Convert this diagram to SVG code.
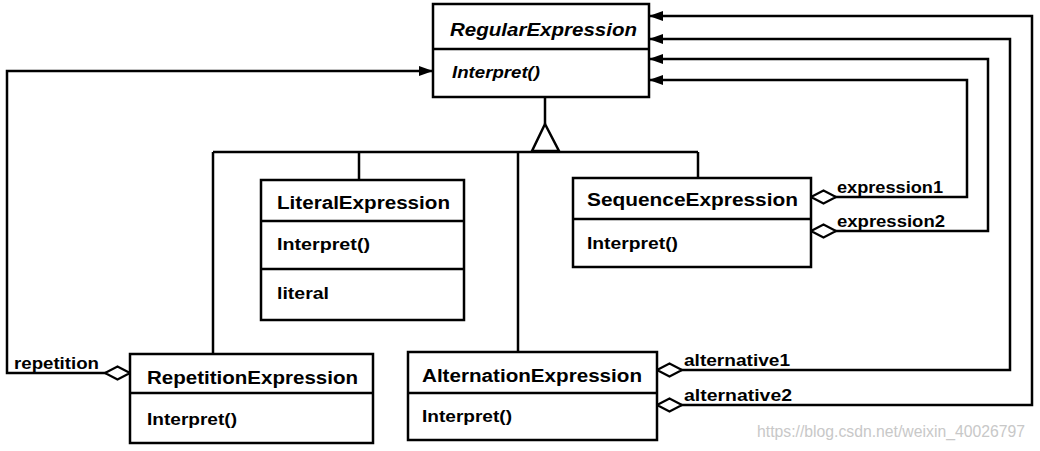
<svg xmlns="http://www.w3.org/2000/svg" width="1040" height="451" viewBox="0 0 1040 451">
<defs>
<style>
.box{fill:#fff;stroke:#000;stroke-width:2.5}
.div{stroke:#000;stroke-width:2.5}
.line{fill:none;stroke:#000;stroke-width:2.5}
.title{font-family:"Liberation Sans",Arial,sans-serif;font-weight:bold;font-size:18px;fill:#000}
.op{font-family:"Liberation Sans",Arial,sans-serif;font-size:17px;fill:#000;font-weight:bold}
.lbl{font-family:"Liberation Sans",Arial,sans-serif;font-size:17px;fill:#000;font-weight:bold}
.wm{font-family:"Liberation Sans",Arial,sans-serif;font-size:16px;fill:#c8c8c8}
</style>
<marker id="arrow" markerUnits="userSpaceOnUse" markerWidth="16" markerHeight="12" refX="14" refY="5" orient="auto">
<path d="M0,0 L14,5 L0,10 Z" fill="#000"/>
</marker>
<marker id="diamond" markerUnits="userSpaceOnUse" markerWidth="30" markerHeight="18" refX="1" refY="8" orient="auto">
<path d="M1,8 L13.5,1.5 L26,8 L13.5,14.5 Z" fill="#fff" stroke="#000" stroke-width="2.2"/>
</marker>
</defs>
<rect width="1040" height="451" fill="#fff"/>
<g id="connectors">
<path class="line" d="M545,97 L545,124"/>
<polygon points="545,124 532,151 559,151" fill="#fff" stroke="#000" stroke-width="2.5"/>
<path class="line" d="M213,152 L698,152"/>
<path class="line" d="M213,152 L213,354"/>
<path class="line" d="M359,152 L359,180"/>
<path class="line" d="M518,152 L518,352"/>
<path class="line" d="M698,152 L698,178"/>
<path class="line" d="M130,373 L7,373 L7,71 L433,71" marker-start="url(#diamond)" marker-end="url(#arrow)"/>
<path class="line" d="M811,197 L967,197 L967,80 L649,80" marker-start="url(#diamond)" marker-end="url(#arrow)"/>
<path class="line" d="M811,231 L988,231 L988,59 L649,59" marker-start="url(#diamond)" marker-end="url(#arrow)"/>
<path class="line" d="M657,370 L1010,370 L1010,39 L649,39" marker-start="url(#diamond)" marker-end="url(#arrow)"/>
<path class="line" d="M657,405 L1032,405 L1032,16 L649,16" marker-start="url(#diamond)" marker-end="url(#arrow)"/>
<text class="lbl" x="14" y="369" textLength="85" lengthAdjust="spacingAndGlyphs">repetition</text>
<text class="lbl" x="837" y="193" textLength="106" lengthAdjust="spacingAndGlyphs">expression1</text>
<text class="lbl" x="837" y="227" textLength="108" lengthAdjust="spacingAndGlyphs">expression2</text>
<text class="lbl" x="684" y="366" textLength="106" lengthAdjust="spacingAndGlyphs">alternative1</text>
<text class="lbl" x="684" y="401" textLength="108" lengthAdjust="spacingAndGlyphs">alternative2</text>
</g>
<g id="RegularExpression">
<rect class="box" x="433" y="4" width="216" height="93"/>
<line class="div" x1="433" y1="49" x2="649" y2="49"/>
<text class="title" x="450" y="36" font-style="italic" textLength="187" lengthAdjust="spacingAndGlyphs">RegularExpression</text>
<text class="op" x="452" y="78" font-style="italic" textLength="88" lengthAdjust="spacingAndGlyphs">Interpret()</text>
</g>
<g id="LiteralExpression">
<rect class="box" x="261" y="180" width="203" height="140"/>
<line class="div" x1="261" y1="221" x2="464" y2="221"/>
<line class="div" x1="261" y1="269" x2="464" y2="269"/>
<text class="title" x="277" y="209" textLength="173" lengthAdjust="spacingAndGlyphs">LiteralExpression</text>
<text class="op" x="277" y="250" textLength="93" lengthAdjust="spacingAndGlyphs">Interpret()</text>
<text class="op" x="277" y="299" textLength="52" lengthAdjust="spacingAndGlyphs">literal</text>
</g>
<g id="SequenceExpression">
<rect class="box" x="573" y="178" width="238" height="89"/>
<line class="div" x1="573" y1="219" x2="811" y2="219"/>
<text class="title" x="587" y="206" textLength="211" lengthAdjust="spacingAndGlyphs">SequenceExpression</text>
<text class="op" x="587" y="249" textLength="91" lengthAdjust="spacingAndGlyphs">Interpret()</text>
</g>
<g id="RepetitionExpression">
<rect class="box" x="130" y="354" width="243" height="89"/>
<line class="div" x1="130" y1="393" x2="373" y2="393"/>
<text class="title" x="147" y="384" textLength="211" lengthAdjust="spacingAndGlyphs">RepetitionExpression</text>
<text class="op" x="147" y="425" textLength="90" lengthAdjust="spacingAndGlyphs">Interpret()</text>
</g>
<g id="AlternationExpression">
<rect class="box" x="408" y="352" width="249" height="88"/>
<line class="div" x1="408" y1="393" x2="657" y2="393"/>
<text class="title" x="422" y="382" textLength="220" lengthAdjust="spacingAndGlyphs">AlternationExpression</text>
<text class="op" x="422" y="422" textLength="90" lengthAdjust="spacingAndGlyphs">Interpret()</text>
</g>
<text class="wm" x="757" y="437" textLength="268" lengthAdjust="spacingAndGlyphs">https://blog.csdn.net/weixin_40026797</text>
</svg>
